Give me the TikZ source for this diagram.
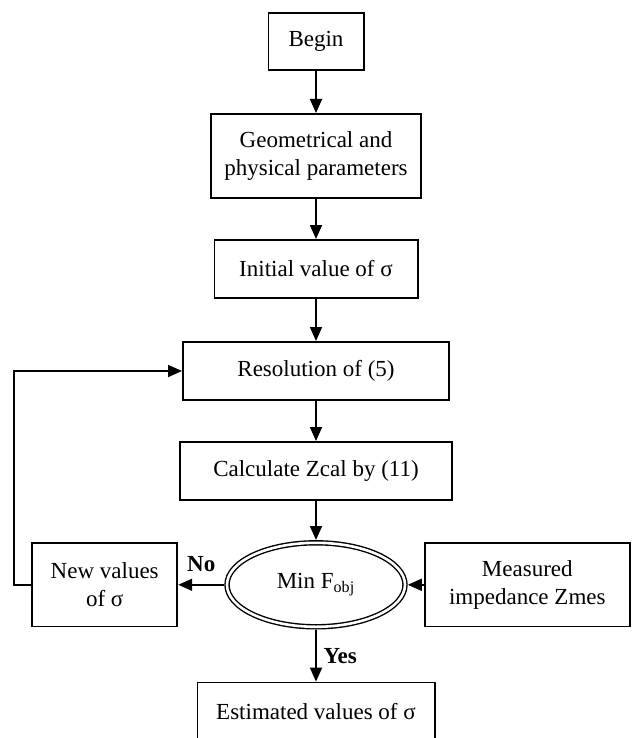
\documentclass[tikz,border=0pt]{standalone}
\usepackage{fontspec}
\setmainfont{Liberation Serif}
\usetikzlibrary{positioning,shapes.geometric,arrows.meta}

\begin{document}
\begin{tikzpicture}[
    font=\fontsize{11.5}{14}\selectfont,
    block/.style={draw, fill=white, rectangle, line width=0.9pt, inner sep=2pt, align=center, minimum height=29.1pt},
    decision/.style={draw, fill=white, ellipse, line width=0.7pt, double, double distance=1.3pt, outer sep=1.4pt, inner sep=1pt, minimum width=89pt, minimum height=42pt},
    arrow/.style={-{Triangle[length=7pt,width=6pt]}, line width=0.9pt},
    answer/.style={font=\fontsize{11.5}{14}\selectfont\bfseries}
]
    \useasboundingbox (0,0) rectangle (319pt,-369pt);

    % Blocks
    \node[block, minimum width=47.6pt, minimum height=28.6pt] (begin) at (158pt,-20.75pt) {Begin};
    \node[block, below=21pt of begin, minimum width=105.1pt, minimum height=42.1pt] (geom) {Geometrical and\\physical parameters};
    \node[block, below=20pt of geom, minimum width=101.6pt] (init) {Initial value of σ};
    \node[block, below=21pt of init, minimum width=133.1pt] (resol) {Resolution of (5)};
    \node[block, below=20pt of resol, minimum width=136.1pt] (zcal) {Calculate Zcal by (11)};
    \node[decision, below=19.5pt of zcal] (minf) {Min F\textsubscript{obj}};
    \node[block, below=26pt of minf, minimum width=118.6pt] (estim) {Estimated values of σ};
    \node[block, left=23pt of minf, minimum width=72.6pt, minimum height=41.6pt] (newval) {New values\\of σ};
    \node[block, right=8pt of minf, minimum width=102.6pt, minimum height=41.6pt] (zmes) {Measured\\impedance Zmes};

    % Arrows
    \draw[arrow] (begin) -- (geom);
    \draw[arrow] (geom) -- (init);
    \draw[arrow] (init) -- (resol);
    \draw[arrow] (resol) -- (zcal);
    \draw[arrow] (zcal) -- (minf);
    \draw[arrow] (minf) -- node[answer, right] {Yes} (estim);
    \draw[arrow] (minf) -- node[answer, above=3pt] {No} (newval);
    \draw[arrow] (zmes) -- (minf);
    \draw[arrow] (newval.west) -- ++(-8.5pt,0) |- (resol.west);
\end{tikzpicture}
\end{document}
